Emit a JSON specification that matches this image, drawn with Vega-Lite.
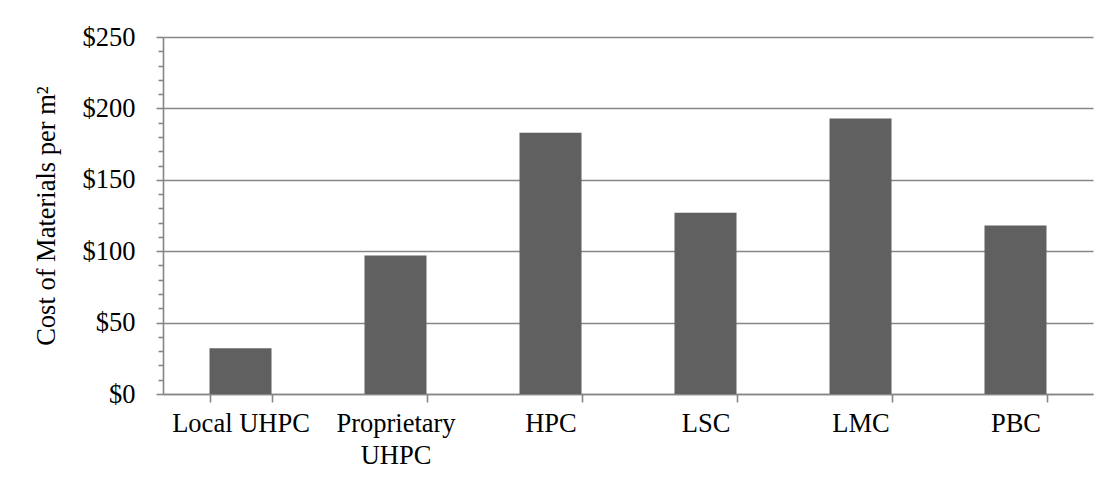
{
  "$schema": "https://vega.github.io/schema/vega-lite/v6.json",
  "width": 930,
  "height": 357,
  "autosize": {"type": "none"},
  "padding": {"left": 163, "top": 37, "right": 21, "bottom": 91},
  "background": "white",
  "data": {
    "values": [
      {"material": "Local UHPC", "cost": 32},
      {"material": "Proprietary UHPC", "cost": 97},
      {"material": "HPC", "cost": 183},
      {"material": "LSC", "cost": 127},
      {"material": "LMC", "cost": 193},
      {"material": "PBC", "cost": 118}
    ]
  },
  "mark": {"type": "bar", "color": "#606060"},
  "encoding": {
    "x": {
      "field": "material",
      "type": "nominal",
      "sort": null,
      "title": null,
      "scale": {"paddingInner": 0.6, "paddingOuter": 0.3},
      "axis": {
        "tickBand": "extent",
        "tickSize": 8,
        "labelAngle": 0,
        "labelPadding": 8,
        "labelLineHeight": 32,
        "labelExpr": "datum.label == 'Proprietary UHPC' ? ['Proprietary', 'UHPC'] : datum.label",
        "grid": false
      }
    },
    "y": {
      "field": "cost",
      "type": "quantitative",
      "title": "Cost of Materials per m²",
      "scale": {"domain": [0, 250], "nice": false},
      "axis": {
        "values": [0, 10, 20, 30, 40, 50, 60, 70, 80, 90, 100, 110, 120, 130, 140, 150, 160, 170, 180, 190, 200, 210, 220, 230, 240, 250],
        "labelExpr": "datum.value % 50 === 0 ? '$' + datum.value : ''",
        "labelOverlap": false,
        "labelPadding": 21,
        "tickSize": {"condition": {"test": "datum.value % 50 === 0", "value": 7}, "value": 5},
        "gridOpacity": {"condition": {"test": "datum.value % 50 === 0", "value": 1}, "value": 0},
        "titlePadding": 22
      }
    }
  },
  "config": {
    "font": "Liberation Serif",
    "view": {"stroke": null},
    "axis": {
      "domainColor": "#868686",
      "domainWidth": 1.6,
      "tickColor": "#868686",
      "tickWidth": 1.6,
      "gridColor": "#868686",
      "gridWidth": 1.6,
      "labelFont": "Liberation Serif",
      "labelFontSize": 26.5,
      "labelColor": "#000000",
      "titleFont": "Liberation Serif",
      "titleFontSize": 26.5,
      "titleFontWeight": "normal",
      "titleColor": "#000000"
    }
  }
}
